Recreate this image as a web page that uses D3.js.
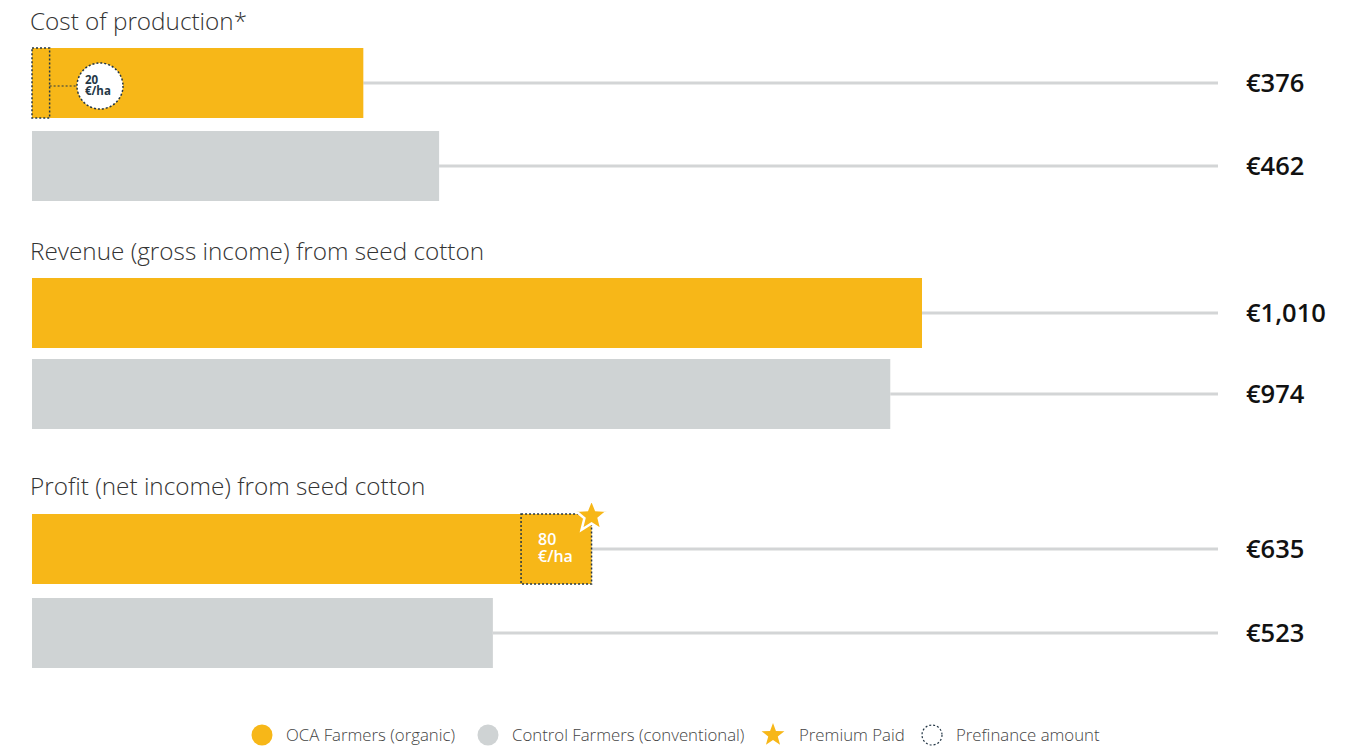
<!DOCTYPE html>
<html>
<head>
<meta charset="utf-8">
<script src="https://cdn.jsdelivr.net/npm/d3@7"></script>
<style>
  body { margin: 0; background: #fff; }
  svg { display: block; font-family: "Open Sans", Lato, sans-serif; }
</style>
</head>
<body>
<svg id="chart" width="1354" height="747"></svg>
<script>
// chart data
const groups = ["Cost of production*", "Revenue (gross income) from seed cotton", "Profit (net income) from seed cotton"];
const ocaValues = [376, 1010, 635];
const controlValues = [462, 974, 523];
const prefinance = [20, null, 80];   // €/ha, shown in organic bars
const premiumPaid = [false, false, true];
const legendLabels = ["OCA Farmers (organic)", "Control Farmers (conventional)", "Premium Paid", "Prefinance amount"];

const yellow = "#f7b718", grey = "#cfd3d4", lineGrey = "#d3d5d6", navy = "#243746";

const svg = d3.select("#chart");
const x = d3.scaleLinear().domain([0, 1010]).range([32, 922]);

// layout per group: title baseline and bar tops
const titleY = [30, 260, 495];
const barTops = [[48, 131], [278, 359], [514, 598]];
const barH = 70;
const fmt = d3.format(",");

function star(cx, cy, R, r) {
    let pts = [];
    for (let i = 0; i < 10; i++) {
        let a = -Math.PI / 2 + i * Math.PI / 5;
        let rad = i % 2 === 0 ? R : r;
        pts.push([cx + rad * Math.cos(a), cy + rad * Math.sin(a)]);
    }
    return "M" + pts.map(p => p.join(",")).join("L") + "Z";
}

// two-line label in one text element
function twoLines(g, x0, y0, dy, size, weight, color, a, b) {
    let t = g.append("text").attr("x", x0).attr("y", y0)
        .attr("font-size", size).attr("font-weight", weight).attr("fill", color);
    t.append("tspan").attr("x", x0).text(a);
    t.append("tspan").attr("x", x0).attr("dy", dy).text(b);
}

groups.forEach(function(name, i) {
    let g = svg.append("g");
    g.append("text")
        .attr("x", 30).attr("y", titleY[i])
        .attr("font-size", 24.3).attr("font-weight", 300).attr("fill", "#333")
        .text(name);

    let rows = [{v: ocaValues[i], c: yellow}, {v: controlValues[i], c: grey}];
    rows.forEach(function(r, j) {
        let top = barTops[i][j], mid = top + barH / 2;
        g.append("line")
            .attr("x1", x(r.v)).attr("x2", 1218)
            .attr("y1", mid).attr("y2", mid)
            .attr("stroke", lineGrey).attr("stroke-width", 3);
        g.append("rect")
            .attr("x", x(0)).attr("y", top)
            .attr("width", x(r.v) - x(0)).attr("height", barH)
            .attr("fill", r.c);
        g.append("text")
            .attr("x", 1246).attr("y", mid + 9)
            .attr("font-size", 25.5).attr("font-weight", 600).attr("fill", "#111")
            .text("€" + fmt(r.v));
    });

    // prefinance marker
    let pf = prefinance[i];
    let top = barTops[i][0];
    if (pf !== null && i === 0) {
        g.append("rect")
            .attr("x", x(0)).attr("y", top)
            .attr("width", x(pf) - x(0)).attr("height", barH)
            .attr("fill", "none").attr("stroke", navy)
            .attr("stroke-width", 1.5).attr("stroke-dasharray", "2,2");
        g.append("line")
            .attr("x1", x(pf)).attr("x2", 77)
            .attr("y1", top + 38).attr("y2", top + 38)
            .attr("stroke", navy).attr("stroke-width", 1.2).attr("stroke-dasharray", "2,2");
        g.append("circle")
            .attr("cx", 100).attr("cy", top + 38).attr("r", 23)
            .attr("fill", "#fff").attr("stroke", navy)
            .attr("stroke-width", 1.5).attr("stroke-dasharray", "2,2");
        twoLines(g, 85, top + 36, 11, 11.5, 700, navy, pf, "€/ha");
    } else if (pf !== null) {
        let x0 = x(ocaValues[i] - pf), x1 = x(ocaValues[i]);
        g.append("rect")
            .attr("x", x0).attr("y", top)
            .attr("width", x1 - x0).attr("height", barH)
            .attr("fill", "none").attr("stroke", navy)
            .attr("stroke-width", 1.5).attr("stroke-dasharray", "2,2");
        twoLines(g, x0 + 17, top + 31, 17, 16, 600, "#fff", pf, "€/ha");
    }
    if (premiumPaid[i]) {
        g.append("path")
            .attr("d", star(x(ocaValues[i]), top + 2, 17, 7.5))
            .attr("fill", yellow).attr("stroke", "#fff").attr("stroke-width", 2.5)
            .attr("stroke-linejoin", "miter");
    }
});

// legend
const lg = svg.append("g").attr("font-size", 16.8).attr("font-weight", 300).attr("fill", "#444");
const legX = [262, 488, 773, 932];
legendLabels.forEach(function(lab, k) {
    let cx = legX[k], cy = 735;
    if (k === 0 || k === 1) {
        lg.append("circle").attr("cx", cx).attr("cy", cy).attr("r", 10.5)
            .attr("fill", k === 0 ? yellow : grey);
    } else if (k === 2) {
        lg.append("path").attr("d", star(cx, cy, 12, 5)).attr("fill", yellow);
    } else {
        lg.append("circle").attr("cx", cx).attr("cy", cy).attr("r", 10)
            .attr("fill", "none").attr("stroke", navy)
            .attr("stroke-width", 1.2).attr("stroke-dasharray", "2,2");
    }
    lg.append("text").attr("x", cx + (k === 2 ? 26 : 24)).attr("y", cy + 6).text(lab);
});
</script>
</body>
</html>
